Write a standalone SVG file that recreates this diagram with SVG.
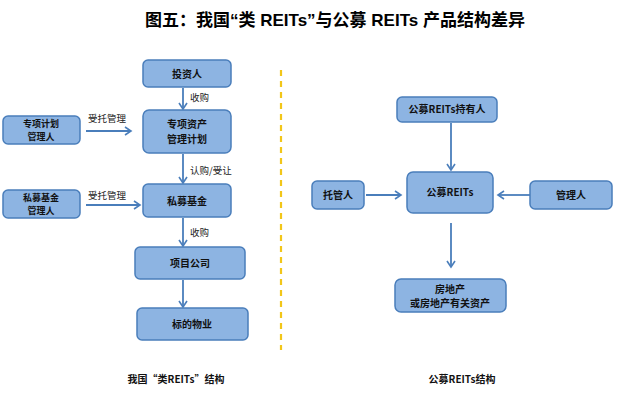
<svg xmlns="http://www.w3.org/2000/svg" width="617" height="402" viewBox="0 0 617 402">
<defs>
<marker id="ah" markerWidth="10" markerHeight="10" refX="7" refY="5" orient="auto" markerUnits="userSpaceOnUse">
<path d="M1,1 L7,5 L1,9" fill="none" stroke="#4A7EBB" stroke-width="1.6"/>
</marker>
</defs>
<style>
.n{fill:#8DB4E2;stroke:#4A7EBB;stroke-width:1.5}
.t{font-family:"Noto Sans CJK SC","Liberation Sans",sans-serif;font-size:10px;font-weight:bold;fill:#111;text-anchor:middle}
.s{font-size:9px}
.l{font-family:"Noto Sans CJK SC","Liberation Sans",sans-serif;font-size:9.5px;fill:#222}
.c{stroke:#4A7EBB;stroke-width:1.8;fill:none;marker-end:url(#ah)}
.title{font-family:"Liberation Sans","Noto Sans CJK SC",sans-serif;font-size:17px;font-weight:bold;fill:#000;text-anchor:middle}
.cap{font-family:"Noto Sans CJK SC","Liberation Sans",sans-serif;font-size:10px;font-weight:bold;fill:#111;text-anchor:middle}
</style>
<rect width="617" height="402" fill="#fff"/>
<text class="title" x="335" y="26">图五：我国“类 REITs”与公募 REITs 产品结构差异</text>
<line x1="281" y1="70" x2="281" y2="350" stroke="#F2C619" stroke-width="2.2" stroke-dasharray="6,5"/>
<g id="connectors">
<line class="c" x1="183" y1="88" x2="183" y2="109"/>
<line class="c" x1="183" y1="154" x2="183" y2="183"/>
<line class="c" x1="183" y1="218" x2="183" y2="246"/>
<line class="c" x1="183" y1="280" x2="183" y2="307"/>
<line class="c" x1="86" y1="131" x2="131" y2="131"/>
<line class="c" x1="86" y1="205" x2="140" y2="205"/>
<line class="c" x1="451" y1="123" x2="451" y2="170"/>
<line class="c" x1="366" y1="195" x2="401" y2="195"/>
<line class="c" x1="530" y1="195" x2="498" y2="195"/>
<line class="c" x1="451" y1="223" x2="451" y2="267"/>
<text class="l" x="190" y="101">收购</text>
<text class="l" x="190" y="174">认购/受让</text>
<text class="l" x="190" y="236">收购</text>
<text class="l" x="88" y="122">受托管理</text>
<text class="l" x="88" y="199">受托管理</text>
</g>
<g id="n_investor"><rect class="n" x="143" y="60" width="88" height="27" rx="5"/><text class="t" x="187" y="78">投资人</text></g>
<g id="n_plan"><rect class="n" x="143" y="110" width="88" height="43" rx="6"/><text class="t" x="187" y="128">专项资产</text><text class="t" x="187" y="143">管理计划</text></g>
<g id="n_planmgr"><rect class="n" x="3" y="116" width="77" height="28" rx="5"/><text class="t s" x="41" y="127">专项计划</text><text class="t s" x="41" y="140">管理人</text></g>
<g id="n_pfmgr"><rect class="n" x="3" y="190" width="77" height="28" rx="5"/><text class="t s" x="41" y="201">私募基金</text><text class="t s" x="41" y="214">管理人</text></g>
<g id="n_pf"><rect class="n" x="143" y="184" width="88" height="33" rx="5"/><text class="t" x="187" y="205">私募基金</text></g>
<g id="n_co"><rect class="n" x="135" y="247" width="110" height="32" rx="5"/><text class="t" x="190" y="267">项目公司</text></g>
<g id="n_prop"><rect class="n" x="137" y="308" width="111" height="32" rx="5"/><text class="t" x="192" y="328">标的物业</text></g>
<g id="n_holder"><rect class="n" x="397" y="97" width="100" height="25" rx="5"/><text class="t" x="447" y="113">公募REITs持有人</text></g>
<g id="n_reits"><rect class="n" x="407" y="172" width="86" height="41" rx="6"/><text class="t" x="450" y="196">公募REITs</text></g>
<g id="n_custodian"><rect class="n" x="312" y="181" width="52" height="28" rx="5"/><text class="t" x="338" y="199">托管人</text></g>
<g id="n_manager"><rect class="n" x="530" y="181" width="82" height="28" rx="5"/><text class="t" x="571" y="199">管理人</text></g>
<g id="n_re"><rect class="n" x="395" y="279" width="111" height="33" rx="6"/><text class="t" x="450" y="293">房地产</text><text class="t" x="450" y="307">或房地产有关资产</text></g>
<text class="cap" x="176" y="383">我国“类REITs”结构</text>
<text class="cap" x="462" y="383">公募REITs结构</text>
</svg>
